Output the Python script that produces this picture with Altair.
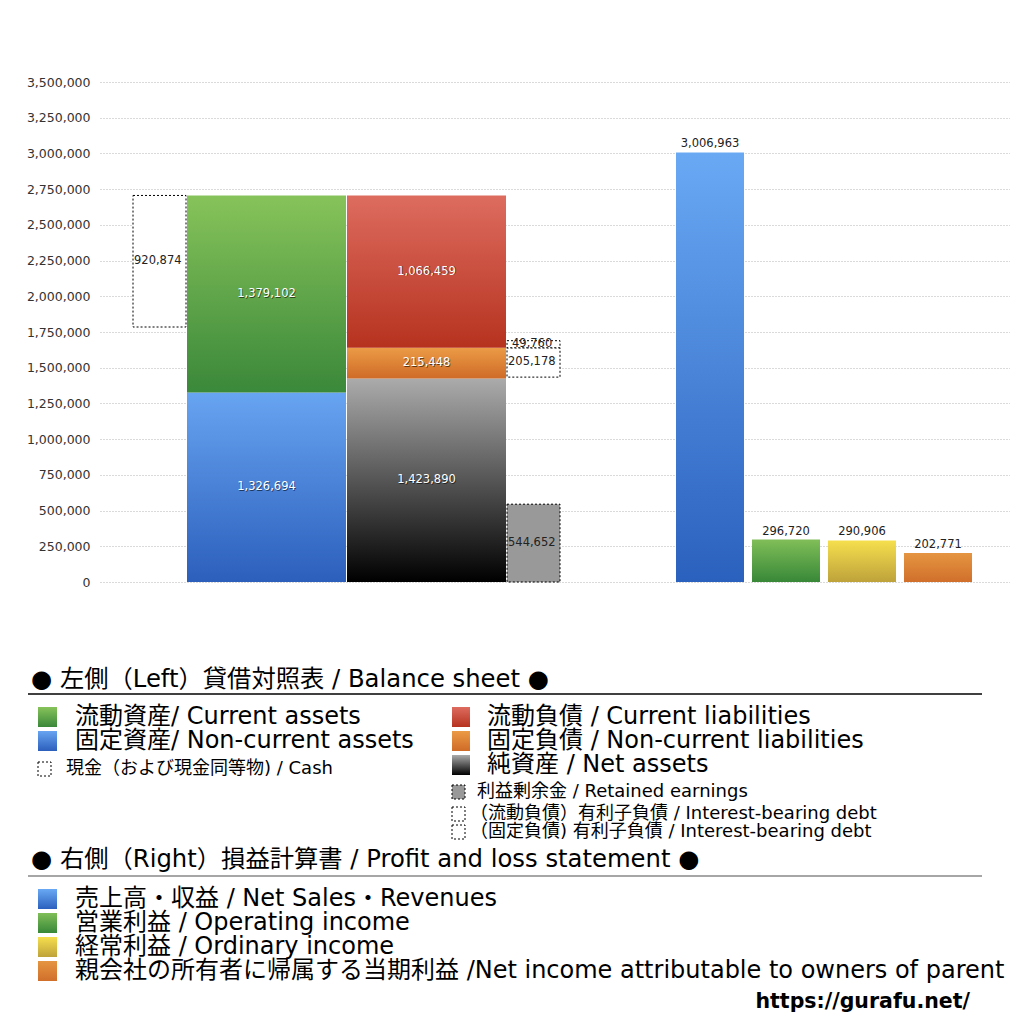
import altair as alt
import pandas as pd

# ---------------- data ----------------
asset_labels = ["固定資産", "流動資産"]
asset_values = [1326694, 1379102]
liab_labels = ["純資産", "固定負債", "流動負債"]
liab_values = [1423890, 215448, 1066459]
cash_value = 920874
retained_value = 544652
debt_labels = ["（固定負債）有利子負債", "（流動負債）有利子負債"]
debt_values = [205178, 49760]
pl_labels = ["売上高・収益", "営業利益", "経常利益", "親会社の所有者に帰属する当期利益"]
pl_values = [3006963, 296720, 290906, 202771]
y_ticks = [0, 250000, 500000, 750000, 1000000, 1250000, 1500000, 1750000,
           2000000, 2250000, 2500000, 2750000, 3000000, 3250000, 3500000]

# ---------------- layout / style ----------------
W, H = 910, 1014
XS = alt.Scale(domain=[0, 910], range=[0, 910], nice=False, zero=False)
YS = alt.Scale(domain=[0, 3500000], range=[574, 74], nice=False, zero=False)
LXS = alt.Scale(domain=[100, 1010], range=[0, 910], nice=False, zero=False)
LYS = alt.Scale(domain=[8, 1022], range=[0, 1014], nice=False, zero=False)

NUM_FONT = "DejaVu Sans"
JP_FONT = "DejaVu Sans, Noto Sans CJK JP"
URL_FONT = "DejaVu Sans"

COLS = {"cash": (33, 86), "assets": (87, 246), "liab": (247, 406), "extra": (407, 460)}
PL_COLS = [(576, 644), (652, 720), (728, 796), (804, 872)]


def grad(top, bottom):
    return {"gradient": "linear", "x1": 0, "y1": 0, "x2": 0, "y2": 1,
            "stops": [{"offset": 0, "color": top}, {"offset": 1, "color": bottom}]}


G_GREEN = grad("#87c35a", "#3a883a")
G_BLUE = grad("#67a4f1", "#2c5fbc")
G_RED = grad("#dd6c5f", "#b6321f")
G_ORANGE = grad("#eb9b46", "#cf6b27")
G_NET = grad("#ababab", "#000000")
P_BLUE = grad("#69a9f4", "#2b61be")
P_GREEN = grad("#80be58", "#388838")
P_YELLOW = grad("#f6df4d", "#bea23b")
P_ORANGE = grad("#e59541", "#d06f2b")

layers = []


def rect(x0, x1, y0, y1, xs, ys, **mk):
    df = pd.DataFrame({"x0": [x0], "x1": [x1], "y0": [y0], "y1": [y1]})
    return alt.Chart(df).mark_rect(**mk).encode(
        x=alt.X("x0:Q", scale=xs, axis=None), x2="x1:Q",
        y=alt.Y("y0:Q", scale=ys, axis=None), y2="y1:Q")


def text(x, y, s, xs, ys, **mk):
    df = pd.DataFrame({"x": [x], "y": [y], "t": [s]})
    return alt.Chart(df).mark_text(**mk).encode(
        x=alt.X("x:Q", scale=xs, axis=None),
        y=alt.Y("y:Q", scale=ys, axis=None), text="t:N")


# axis + grid layer
layers.append(
    alt.Chart(pd.DataFrame({"v": y_ticks})).mark_tick(opacity=0).encode(
        y=alt.Y("v:Q", scale=YS, axis=alt.Axis(
            values=y_ticks, format=",.0f", grid=True, gridDash=[1, 2], gridColor="#b5b5b5",
            gridWidth=1, ticks=False, domain=False, labelFont=NUM_FONT, labelFontSize=12.5,
            labelColor="#333", labelPadding=10, title=None)),
        x=alt.value(0))
)


def inner_label(xc, yc, v):
    s = f"{v:,}"
    return [
        text(xc + 0.8, yc, s, XS, YS, font=NUM_FONT, fontSize=11.5, color="#000",
             opacity=0.55, align="center", baseline="middle", dy=0.8),
        text(xc, yc, s, XS, YS, font=NUM_FONT, fontSize=11.5, color="#ffffff",
             align="center", baseline="middle"),
    ]


# assets stack
ax0, ax1 = COLS["assets"]
base = 0
for v, g in zip(asset_values, [G_BLUE, G_GREEN]):
    layers.append(rect(ax0, ax1, base, base + v, XS, YS, fill=g))
    layers += inner_label((ax0 + ax1) / 2, base + v / 2, v)
    base += v
total_assets = base

# liabilities + net assets stack
lx0, lx1 = COLS["liab"]
base = 0
for v, g in zip(liab_values, [G_NET, G_ORANGE, G_RED]):
    layers.append(rect(lx0, lx1, base, base + v, XS, YS, fill=g))
    layers += inner_label((lx0 + lx1) / 2, base + v / 2, v)
    base += v

DASH = dict(stroke="#000", strokeWidth=1, strokeDash=[2, 2])


def side_label(x, yv, v, dx=2):
    return text(x, yv, f"{v:,}", XS, YS, font=NUM_FONT, fontSize=11.5, color="#222",
                align="left", baseline="middle", dx=dx)


# cash box
cx0, cx1 = COLS["cash"]
layers.append(rect(cx0, cx1, total_assets - cash_value, total_assets, XS, YS, fill="#ffffff", **DASH))
layers.append(side_label(cx0, total_assets - cash_value / 2, cash_value, dx=1))

# retained earnings box
ex0, ex1 = COLS["extra"]
layers.append(rect(ex0, ex1, 0, retained_value, XS, YS, fill="#999999", **DASH))
layers.append(side_label(ex0, retained_value / 2, retained_value, dx=1))

# interest-bearing debt boxes
debt_top = liab_values[0] + liab_values[1]
layers.append(rect(ex0, ex1, debt_top - debt_values[0], debt_top, XS, YS, fill="#ffffff", **DASH))
layers.append(side_label(ex0, debt_top - debt_values[0] / 2, debt_values[0], dx=1))
layers.append(rect(ex0, ex1, debt_top, debt_top + debt_values[1], XS, YS, fill="#ffffff", **DASH))
layers.append(side_label(ex0, debt_top + debt_values[1] / 2, debt_values[1], dx=5))

# P&L bars
for (x0, x1), v, g in zip(PL_COLS, pl_values, [P_BLUE, P_GREEN, P_YELLOW, P_ORANGE]):
    layers.append(rect(x0, x1, 0, v, XS, YS, fill=g))
    layers.append(text((x0 + x1) / 2, v, f"{v:,}", XS, YS, font=NUM_FONT, fontSize=11.5,
                       color="#222", align="center", baseline="bottom", dy=-3))

# ---------------- legend ----------------
HDR = 24.3
BIG = 24
SMALL = 18

headers = [("● 左側（Left）貸借対照表 / Balance sheet ●", 680),
           ("● 右側（Right）損益計算書 / Profit and loss statement ●", 860)]
for s, y in headers:
    layers.append(text(31, y, s, LXS, LYS, font=JP_FONT, fontSize=HDR, color="#000",
                       align="left", baseline="middle"))

for y, col in [(694, "#000000"), (876, "#888888")]:
    df = pd.DataFrame({"x0": [28], "x1": [982], "y": [y]})
    layers.append(alt.Chart(df).mark_rule(color=col, strokeWidth=1.5).encode(
        x=alt.X("x0:Q", scale=LXS, axis=None), x2="x1:Q",
        y=alt.Y("y:Q", scale=LYS, axis=None)))

big_items = [
    ("流動資産/ Current assets", 38, 57, 75, 717, G_GREEN),
    ("固定資産/ Non-current assets", 38, 57, 75, 741, G_BLUE),
    ("流動負債 /  Current liabilities", 452, 470, 487, 717, G_RED),
    ("固定負債 / Non-current liabilities", 452, 470, 487, 741, G_ORANGE),
    ("純資産 / Net assets", 452, 470, 487, 765, G_NET),
    ("売上高・収益 / Net Sales・Revenues", 38, 57, 75, 899, P_BLUE),
    ("営業利益 / Operating income", 38, 57, 75, 923, P_GREEN),
    ("経常利益 / Ordinary income", 38, 57, 75, 947, P_YELLOW),
    ("親会社の所有者に帰属する当期利益 /Net income attributable to owners of parent", 38, 57, 75, 971, P_ORANGE),
]
for s, sx0, sx1, tx, y, g in big_items:
    layers.append(rect(sx0, sx1, y - 10, y + 10, LXS, LYS, fill=g))
    layers.append(text(tx, y, s, LXS, LYS, font=JP_FONT, fontSize=BIG, color="#000",
                       align="left", baseline="middle"))

small_items = [
    ("現金（および現金同等物) / Cash", 38, 51, 66, 769, "#ffffff"),
    ("利益剰余金 / Retained earnings", 452, 465, 477, 792, "#999999"),
    ("（流動負債）有利子負債 / Interest-bearing debt", 452, 465, 470, 814, "#ffffff"),
    ("（固定負債) 有利子負債 / Interest-bearing debt", 452, 465, 470, 832, "#ffffff"),
]
for s, sx0, sx1, tx, y, f in small_items:
    layers.append(rect(sx0, sx1, y - 7, y + 7, LXS, LYS, fill=f, **DASH))
    layers.append(text(tx, y, s, LXS, LYS, font=JP_FONT, fontSize=SMALL, color="#000",
                       align="left", baseline="middle"))

layers.append(text(970, 1002, "https://gurafu.net/", LXS, LYS, font=URL_FONT, fontSize=20.5,
                   fontWeight="bold", color="#000", align="right", baseline="middle"))

chart = alt.layer(*layers).resolve_scale(x="independent", y="independent").properties(
    width=W, height=H,
    autosize=alt.AutoSizeParams(type="none"),
    padding={"left": 92, "top": 0, "right": 0, "bottom": 0},
).configure_view(stroke=None)

chart.save("out.html", embed_options={"renderer": "svg", "actions": False})
